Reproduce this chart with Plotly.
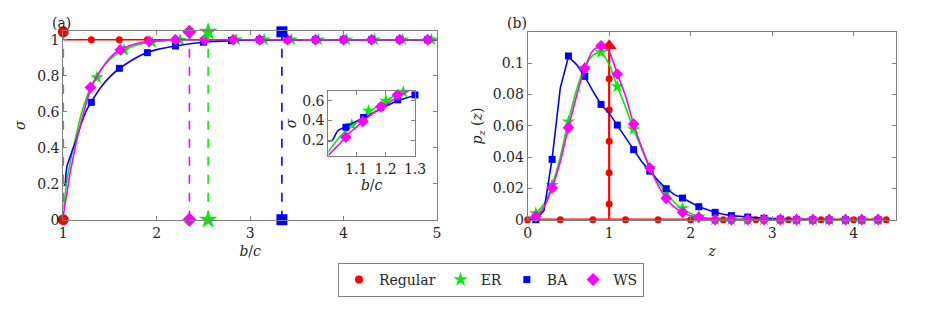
import plotly.graph_objects as go

RED = '#ff0000'
GREEN = '#00ee00'
BLUE = '#0000ff'
MAGENTA = '#ff00ff'
GRAY = '#808080'
TXT = '#262626'
FONT = 'DejaVu Serif'
FS = 14

# page body has an 8px margin, so the figure is 910x312 and offsets are shifted by 8px
W, H = 910, 312
def px(p):
    return (p - 8) / W
def py(p):
    return 1 - (p - 8) / H

# ---- panel (a): sigma vs b/c ----
bc_line = [1.0, 1.01, 1.02, 1.03, 1.04, 1.06, 1.08, 1.1, 1.13, 1.16, 1.2, 1.25, 1.3,
           1.4, 1.5, 1.6, 1.7, 1.8, 1.9, 2.0, 2.2, 2.4, 2.6, 2.8, 3.0, 3.4, 4.0, 5.0]
sig_ba = [0.19, 0.19, 0.2, 0.26, 0.3, 0.33, 0.36, 0.39, 0.43, 0.48, 0.545, 0.61, 0.655,
          0.735, 0.795, 0.84, 0.875, 0.905, 0.93, 0.945, 0.965, 0.98, 0.99, 0.995, 0.998, 1, 1, 1]
sig_er = [0.06, 0.1, 0.14, 0.18, 0.22, 0.28, 0.335, 0.385, 0.45, 0.52, 0.6, 0.68, 0.745,
          0.83, 0.89, 0.93, 0.955, 0.972, 0.984, 0.99, 0.997, 1, 1, 1, 1, 1, 1, 1]
sig_ws = [0.02, 0.06, 0.09, 0.12, 0.15, 0.22, 0.28, 0.33, 0.41, 0.48, 0.56, 0.655, 0.735,
          0.83, 0.9, 0.943, 0.965, 0.98, 0.99, 0.995, 1, 1, 1, 1, 1, 1, 1, 1]

reg_line_x = [1, 5]
reg_line_y = [1, 1]
reg_mk_x = [1.3, 1.6, 1.9, 2.2, 2.5, 2.8, 3.1, 3.4, 3.7, 4.0, 4.3, 4.6, 4.9]
reg_mk_y = [1] * 13

ba_mk_x = [1.3, 1.6, 1.9, 2.2, 2.5, 2.8, 3.1, 3.4, 3.7, 4.0, 4.3, 4.6, 4.9]
ba_mk_y = [0.652, 0.841, 0.928, 0.965, 0.986, 0.995, 1, 1, 1, 1, 1, 1, 1]
er_mk_x = [1.36, 1.65, 1.95, 2.25, 2.85, 3.15, 3.44, 3.73, 4.03, 4.33, 4.63, 4.94]
er_mk_y = [0.79, 0.943, 0.985, 0.998, 1, 1, 1, 1, 1, 1, 1, 1]
ws_mk_x = [1.29, 1.61, 1.92, 2.2, 2.51, 2.82, 3.1, 3.4, 3.7, 4.0, 4.3, 4.6, 4.9]
ws_mk_y = [0.735, 0.943, 0.99, 1, 1, 1, 1, 1, 1, 1, 1, 1, 1]

# thresholds (b/c)*
thr_x = [1.0, 2.55, 3.34, 2.35]
thr_top = 1.044
thr_col = [RED, GREEN, BLUE, MAGENTA]
thr_sym = ['circle', 'star', 'square', 'diamond']

# inset markers
in_ba_x = [1.065, 1.125, 1.184, 1.241, 1.3]
in_ba_y = [0.33, 0.43, 0.535, 0.61, 0.66]
in_er_x = [1.085, 1.142, 1.201, 1.26]
in_er_y = [0.354, 0.497, 0.6, 0.69]
in_ws_x = [1.065, 1.123, 1.184, 1.24]
in_ws_y = [0.228, 0.39, 0.54, 0.66]

# ---- panel (b): p_z(z) ----
z_line = [0.0, 0.1, 0.2, 0.3, 0.4, 0.5, 0.6, 0.7, 0.8, 0.9, 1.0, 1.1, 1.2, 1.3, 1.4, 1.5,
          1.6, 1.7, 1.8, 1.9, 2.0, 2.1, 2.2, 2.3, 2.4, 2.5, 2.7, 2.9, 3.1, 3.3, 3.5, 4.4]
pz_ba = [0, 0, 0.006, 0.039, 0.084, 0.104, 0.099, 0.0915, 0.082, 0.0735, 0.068, 0.0605,
         0.053, 0.0447, 0.037, 0.031, 0.025, 0.0198, 0.016, 0.0138, 0.011, 0.0083, 0.0065,
         0.0047, 0.0035, 0.0026, 0.0017, 0.0009, 0.0004, 0.0002, 0, 0]
pz_er = [0, 0.004, 0.01, 0.022, 0.04, 0.063, 0.083, 0.097, 0.105, 0.107, 0.099, 0.085,
         0.072, 0.0577, 0.045, 0.0328, 0.024, 0.0175, 0.011, 0.007, 0.004, 0.002, 0.001,
         0.0005, 0, 0, 0, 0, 0, 0, 0, 0]
pz_ws = [0, 0.002, 0.008, 0.0204, 0.037, 0.0587, 0.079, 0.0966, 0.108, 0.111, 0.107, 0.093,
         0.079, 0.061, 0.046, 0.033, 0.022, 0.0136, 0.008, 0.0047, 0.0025, 0.0015, 0.0007,
         0.0003, 0, 0, 0, 0, 0, 0, 0, 0]

zmk = [0.1, 0.3, 0.5, 0.7, 0.9, 1.1, 1.3, 1.5, 1.7, 1.9, 2.1, 2.3, 2.5, 2.7, 2.9, 3.1,
       3.3, 3.5, 3.7, 3.9, 4.1, 4.3]
pz_ba_mk = [0, 0.0385, 0.1045, 0.0915, 0.0736, 0.0604, 0.0447, 0.031, 0.0198, 0.0138,
            0.0083, 0.0047, 0.0026, 0.0017, 0.0009, 0.0004, 0, 0, 0, 0, 0, 0]
pz_er_mk = [0.004, 0.022, 0.0625, 0.0966, 0.1068, 0.085, 0.0577, 0.0328, 0.0179, 0.0072,
            0.002, 0, 0, 0, 0, 0, 0, 0, 0, 0, 0, 0]
pz_ws_mk = [0.002, 0.0204, 0.0587, 0.0966, 0.111, 0.093, 0.061, 0.033, 0.0136, 0.0047,
            0.0015, 0, 0, 0, 0, 0, 0, 0, 0, 0, 0, 0]

reg_z_x = [0, 0.4, 0.8, 1.2, 1.6, 2.0, 2.4, 2.8, 3.2, 3.6, 4.0, 4.4]
reg_z_y = [0] * 12
reg_spike_y = [0.01, 0.03, 0.05, 0.07, 0.09]
reg_spike_top = 0.111

fig = go.Figure()

def line(x, y, col, xa='x', ya='y', w=1.6, dash='solid', shape='spline'):
    fig.add_trace(go.Scatter(x=x, y=y, mode='lines', xaxis=xa, yaxis=ya,
                             line=dict(color=col, width=w, dash=dash, shape=shape, smoothing=0.6),
                             showlegend=False, hoverinfo='skip', cliponaxis=False))

def marks(x, y, col, sym, size, xa='x', ya='y'):
    fig.add_trace(go.Scatter(x=x, y=y, mode='markers', xaxis=xa, yaxis=ya,
                             marker=dict(color=col, symbol=sym, size=size, line=dict(width=0)),
                             showlegend=False, hoverinfo='skip', cliponaxis=False))

# panel (a)
line(reg_line_x, reg_line_y, RED, shape='linear')
marks(reg_mk_x, reg_mk_y, RED, 'circle', 7)
line(bc_line, sig_er, GREEN)
marks(er_mk_x, er_mk_y, GREEN, 'star', 10)
line(bc_line, sig_ba, BLUE)
marks(ba_mk_x, ba_mk_y, BLUE, 'square', 7)
line(bc_line, sig_ws, MAGENTA)
marks(ws_mk_x, ws_mk_y, MAGENTA, 'diamond', 9)
for tx, c, s in zip(thr_x, thr_col, thr_sym):
    line([tx, tx], [0, thr_top], c, dash='dash', shape='linear')
    sz = 14 if s == 'star' else 11
    marks([tx, tx], [0, thr_top], c, s, sz)

# inset
line(bc_line, sig_er, GREEN, 'x3', 'y3')
marks(in_er_x, in_er_y, GREEN, 'star', 10, 'x3', 'y3')
line(bc_line, sig_ba, BLUE, 'x3', 'y3')
marks(in_ba_x, in_ba_y, BLUE, 'square', 7, 'x3', 'y3')
line(bc_line, sig_ws, MAGENTA, 'x3', 'y3')
marks(in_ws_x, in_ws_y, MAGENTA, 'diamond', 9, 'x3', 'y3')

# panel (b)
line([reg_z_x[0], reg_z_x[-1]], [0, 0], RED, 'x2', 'y2', w=2.2, shape='linear')
line([1, 1], [0, reg_spike_top], RED, 'x2', 'y2', w=2.2, shape='linear')
marks(reg_z_x, reg_z_y, RED, 'circle', 7, 'x2', 'y2')
marks([1] * 5, reg_spike_y, RED, 'circle', 7, 'x2', 'y2')
marks([1], [reg_spike_top], RED, 'triangle-up', 13, 'x2', 'y2')
line(z_line, pz_er, GREEN, 'x2', 'y2')
marks(zmk, pz_er_mk, GREEN, 'star', 10, 'x2', 'y2')
line(z_line, pz_ba, BLUE, 'x2', 'y2', shape='linear')
marks(zmk, pz_ba_mk, BLUE, 'square', 7, 'x2', 'y2')
line(z_line, pz_ws, MAGENTA, 'x2', 'y2')
marks(zmk, pz_ws_mk, MAGENTA, 'diamond', 9, 'x2', 'y2')

# legend entries
for name, c, s, sz in [('Regular', RED, 'circle', 8), ('ER', GREEN, 'star', 11),
                       ('BA', BLUE, 'square', 7), ('WS', MAGENTA, 'diamond', 10)]:
    fig.add_trace(go.Scatter(x=[None], y=[None], mode='markers', name=name,
                             marker=dict(color=c, symbol=s, size=sz, line=dict(width=0))))

ax = dict(showline=True, linecolor=GRAY, linewidth=1, mirror='ticks', ticks='inside',
          ticklen=4, tickcolor=GRAY, showgrid=False, zeroline=False, automargin=False,
          tickfont=dict(family=FONT, size=FS, color=TXT))
tfont = dict(family=FONT, size=FS, color=TXT)

fig.update_layout(
    width=W, height=H, margin=dict(l=0, r=0, t=0, b=0, autoexpand=False),
    font=dict(family=FONT, size=FS, color=TXT),
    plot_bgcolor='white', paper_bgcolor='white',
    xaxis=dict(ax, domain=[px(63.3), px(437)], range=[1, 5], tickvals=[1, 2, 3, 4, 5],
               title=dict(text='<i>b</i>/<i>c</i>', font=tfont, standoff=6), anchor='y'),
    yaxis=dict(ax, domain=[py(219.7), py(30.7)], range=[0, 1.05],
               tickvals=[0, 0.2, 0.4, 0.6, 0.8, 1], ticktext=['0', '0.2', '0.4', '0.6', '0.8', '1'],
               title=dict(text='<i>σ</i>', font=tfont, standoff=8), anchor='x'),
    xaxis2=dict(ax, domain=[px(527.7), px(896)], range=[0, 4.52], tickvals=[0, 1, 2, 3, 4],
                title=dict(text='<i>z</i>', font=tfont, standoff=6), anchor='y2'),
    yaxis2=dict(ax, domain=[py(219.7), py(32.3)], range=[0, 0.1196],
                tickvals=[0, 0.02, 0.04, 0.06, 0.08, 0.1],
                ticktext=['0', '0.02', '0.04', '0.06', '0.08', '0.1'],
                title=dict(text='<i>p</i><sub><i>z</i></sub> (<i>z</i>)', font=tfont, standoff=6),
                anchor='x2'),
    xaxis3=dict(ax, domain=[px(328.3), px(415)], range=[1.005, 1.3], tickvals=[1.1, 1.2, 1.3],
                title=dict(text='<i>b</i>/<i>c</i>', font=tfont, standoff=4), anchor='y3'),
    yaxis3=dict(ax, domain=[py(155.7), py(91)], range=[0.04, 0.7], tickvals=[0.2, 0.4, 0.6],
                title=dict(text='<i>σ</i>', font=tfont, standoff=2), anchor='x3'),
    legend=dict(orientation='h', x=px(491), xanchor='center', y=py(280), yanchor='middle',
                bordercolor=GRAY, borderwidth=1, bgcolor='white',
                font=dict(family=FONT, size=FS, color=TXT), itemsizing='trace'),
    annotations=[
        dict(text='(a)', x=px(50), y=py(13), xref='paper', yref='paper',
             showarrow=False, font=tfont),
        dict(text='(b)', x=px(517), y=py(13), xref='paper', yref='paper',
             showarrow=False, font=tfont),
    ],
)

fig.write_html('out.html')
